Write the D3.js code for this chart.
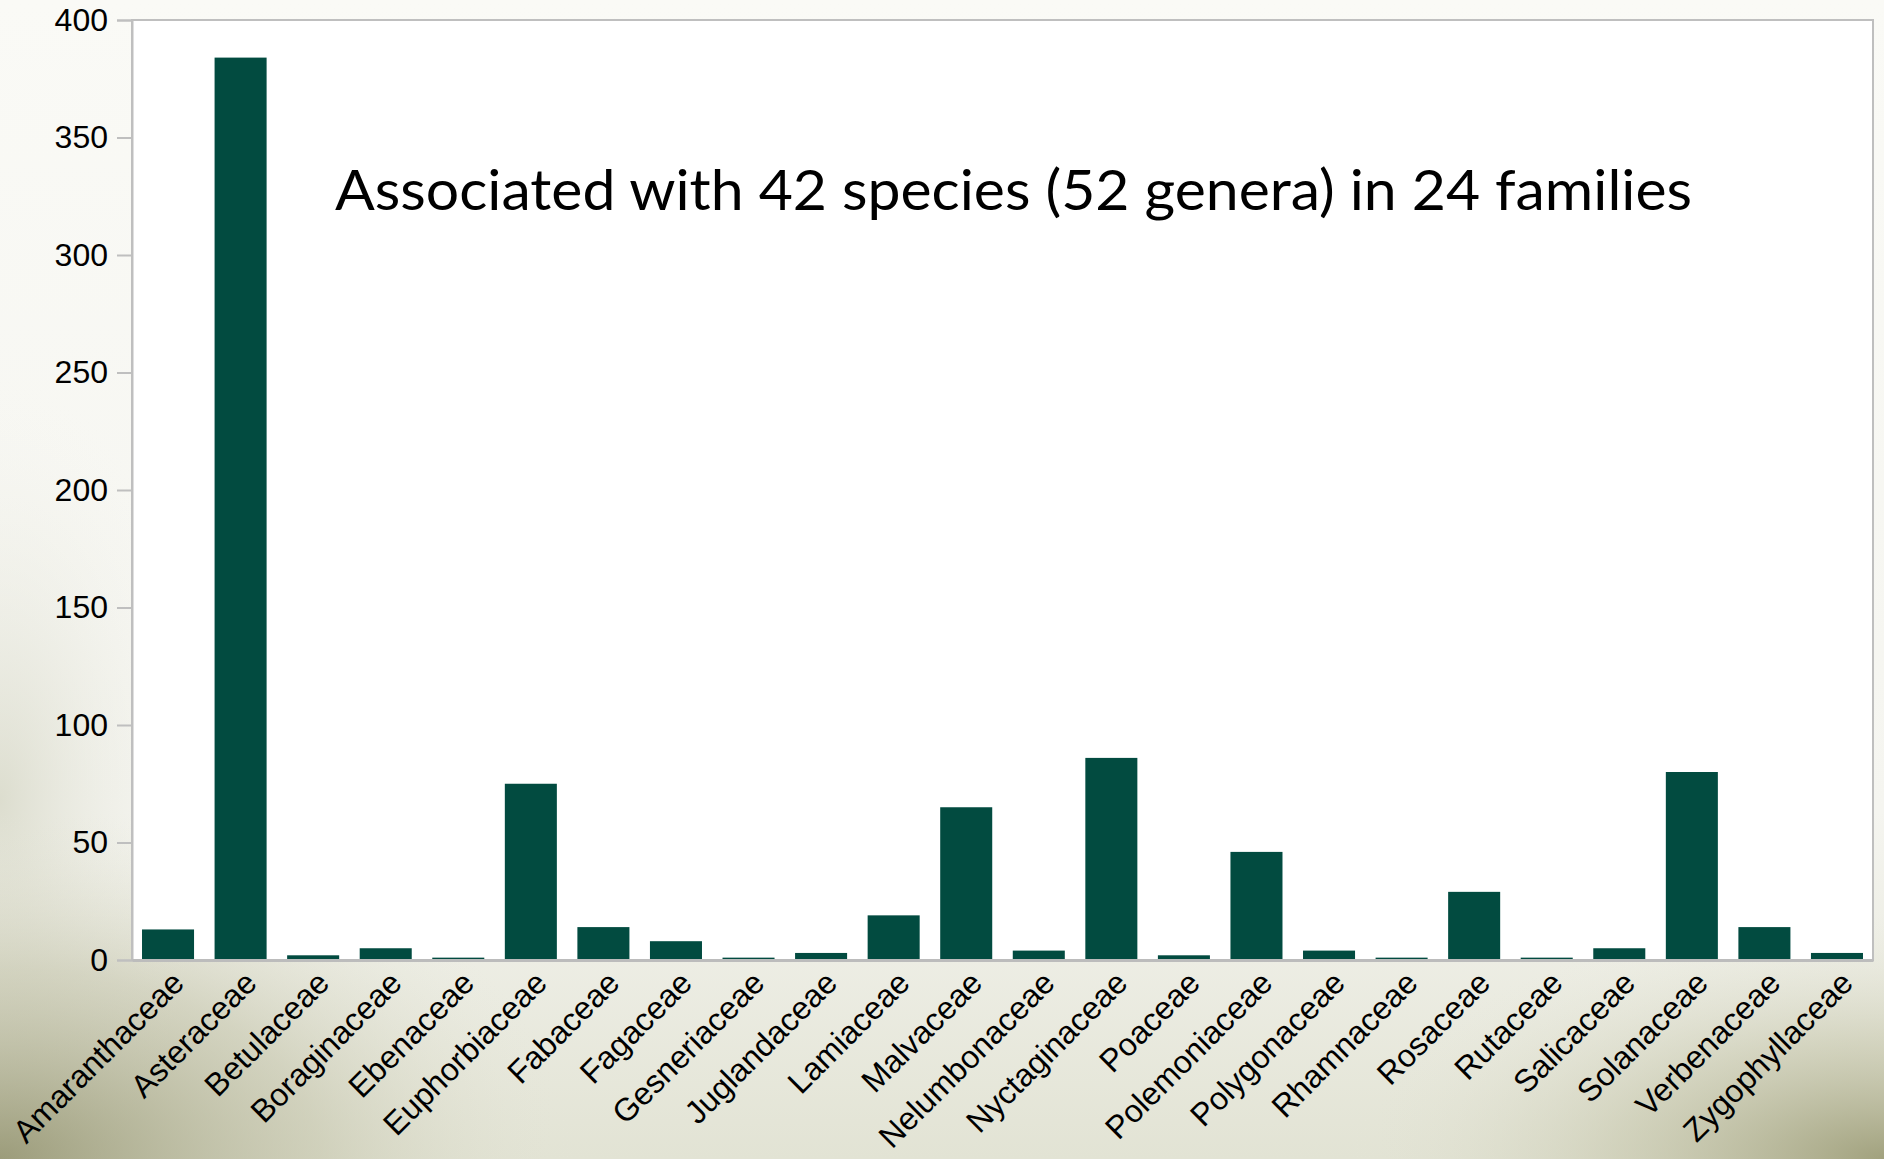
<!DOCTYPE html>
<html>
<head>
<meta charset="utf-8">
<script src="https://cdn.jsdelivr.net/npm/d3@7"></script>
<style>
html, body { margin: 0; padding: 0; background: #f8f8f4; }
svg { display: block; }
</style>
</head>
<body>
<script>
const families = ["Amaranthaceae","Asteraceae","Betulaceae","Boraginaceae","Ebenaceae","Euphorbiaceae","Fabaceae","Fagaceae","Gesneriaceae","Juglandaceae","Lamiaceae","Malvaceae","Nelumbonaceae","Nyctaginaceae","Poaceae","Polemoniaceae","Polygonaceae","Rhamnaceae","Rosaceae","Rutaceae","Salicaceae","Solanaceae","Verbenaceae","Zygophyllaceae"];
const counts = [13,384,2,5,1,75,14,8,1,3,19,65,4,86,2,46,4,1,29,1,5,80,14,3];
const yTicks = [0,50,100,150,200,250,300,350,400];
const annotation = "Associated with 42 species (52 genera) in 24 families";

const W = 1884, H = 1159;
const plot = {left: 132, right: 1873, top: 20, bottom: 960};

const svg = d3.select("body").append("svg").attr("width", W).attr("height", H);
const defs = svg.append("defs");

// background gradients
const bg = defs.append("linearGradient").attr("id","bg").attr("x1",0).attr("y1",0).attr("x2",0).attr("y2",1);
bg.append("stop").attr("offset","0").attr("stop-color","#fafaf6");
bg.append("stop").attr("offset","0.7").attr("stop-color","#f5f5f0");
bg.append("stop").attr("offset","1").attr("stop-color","#e2e3d4");

const ls = defs.append("radialGradient").attr("id","lside").attr("gradientUnits","userSpaceOnUse")
  .attr("cx",0).attr("cy",800).attr("r",420).attr("gradientTransform","translate(0,800) scale(0.5,1) translate(0,-800)");
ls.append("stop").attr("offset","0").attr("stop-color","#d6d7c6").attr("stop-opacity",0.8);
ls.append("stop").attr("offset","1").attr("stop-color","#f5f5f0").attr("stop-opacity",0);

const rl = defs.append("radialGradient").attr("id","bl").attr("gradientUnits","userSpaceOnUse")
  .attr("cx",0).attr("cy",1159).attr("r",580).attr("gradientTransform","translate(0,1159) scale(1,0.6) translate(0,-1159)");
rl.append("stop").attr("offset","0").attr("stop-color","#8f8f6a").attr("stop-opacity",0.85);
rl.append("stop").attr("offset","0.55").attr("stop-color","#b9b99c").attr("stop-opacity",0.45);
rl.append("stop").attr("offset","1").attr("stop-color","#e8e8dc").attr("stop-opacity",0);

const rr = defs.append("radialGradient").attr("id","br").attr("gradientUnits","userSpaceOnUse")
  .attr("cx",1884).attr("cy",1159).attr("r",540).attr("gradientTransform","translate(1884,1159) scale(1,0.45) translate(-1884,-1159)");
rr.append("stop").attr("offset","0").attr("stop-color","#9a9a74").attr("stop-opacity",0.9);
rr.append("stop").attr("offset","0.5").attr("stop-color","#bdbd9f").attr("stop-opacity",0.45);
rr.append("stop").attr("offset","1").attr("stop-color","#e8e8dc").attr("stop-opacity",0);

svg.append("rect").attr("width",W).attr("height",H).attr("fill","url(#bg)");
svg.append("rect").attr("width",W).attr("height",H).attr("fill","url(#lside)");
svg.append("rect").attr("width",W).attr("height",H).attr("fill","url(#bl)");
svg.append("rect").attr("width",W).attr("height",H).attr("fill","url(#br)");

// plot area
svg.append("rect")
  .attr("x", plot.left).attr("y", plot.top)
  .attr("width", plot.right - plot.left).attr("height", plot.bottom - plot.top)
  .attr("fill", "#ffffff").attr("stroke", "#bfbfbf").attr("stroke-width", 2);

const x = d3.scaleBand().domain(families).range([plot.left, plot.right]).paddingInner(0.283).paddingOuter(0.138);
const y = d3.scaleLinear().domain([0, 400]).range([plot.bottom, plot.top]);

// bars
svg.append("g").selectAll("rect").data(families).join("rect")
  .attr("x", d => x(d))
  .attr("width", x.bandwidth())
  .attr("y", (d,i) => y(counts[i]))
  .attr("height", (d,i) => y(0) - y(counts[i]))
  .attr("fill", "#024b40");

// y axis
const yAxis = svg.append("g").attr("transform", `translate(${plot.left},0)`)
  .call(d3.axisLeft(y).tickValues(yTicks).tickSize(15).tickPadding(9));
yAxis.select(".domain").attr("stroke","#bfbfbf").attr("stroke-width",2);
yAxis.selectAll(".tick line").attr("stroke","#bfbfbf").attr("stroke-width",2);
yAxis.selectAll(".tick text")
  .attr("font-family","'Liberation Sans', Arial, sans-serif")
  .attr("font-size", 32).attr("fill","#000");

// x axis line (bottom)
const xAxis = svg.append("g").attr("transform", `translate(0,${plot.bottom})`)
  .call(d3.axisBottom(x).tickSize(0).tickSizeOuter(0).tickPadding(0));
xAxis.select(".domain").attr("stroke","#bcbcbc").attr("stroke-width",3);
xAxis.selectAll(".tick text")
  .attr("font-family","'Liberation Sans', Arial, sans-serif")
  .attr("font-size", 32).attr("fill","#000")
  .attr("text-anchor","end")
  .attr("dy","0.35em")
  .attr("y", 0)
  .attr("transform","translate(10,17) rotate(-45)");

// annotation
svg.append("text")
  .attr("x", 335).attr("y", 210)
  .attr("font-family","Lato, 'Open Sans', sans-serif")
  .attr("font-size", 57)
  .attr("textLength", 1357)
  .attr("lengthAdjust", "spacingAndGlyphs")
  .attr("fill","#000")
  .text(annotation);
</script>
</body>
</html>
